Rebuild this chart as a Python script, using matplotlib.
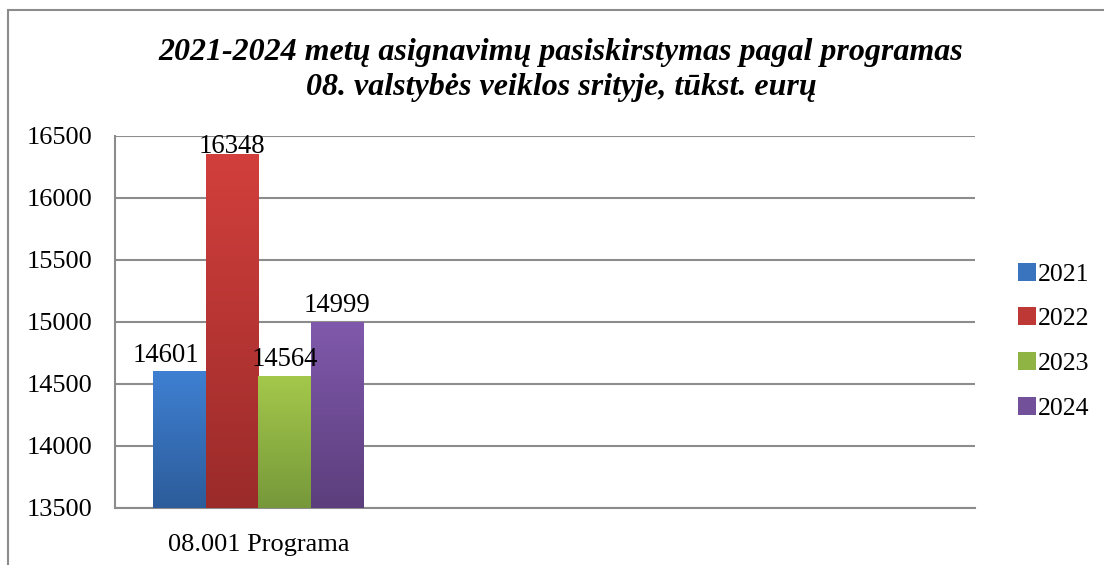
import numpy as np
import matplotlib
matplotlib.use('Agg')
import matplotlib.pyplot as plt
from matplotlib.colors import LinearSegmentedColormap
from matplotlib.patches import Rectangle, Patch

# duomenys
categories = ['08.001 Programa', '', '']
years = ['2021', '2022', '2023', '2024']
values = [14601, 16348, 14564, 14999]
colors_top = ['#3F80D2', '#D23F3C', '#A4C84B', '#8059AC']
colors_bottom = ['#2C5C9A', '#9A2B2A', '#76983A', '#5C3E7C']
colors_mid = ['#3A73BE', '#BE3835', '#90B444', '#72509A']
y_ticks = [13500, 14000, 14500, 15000, 15500, 16000, 16500]

plt.rcParams['font.family'] = ['Liberation Serif', 'DejaVu Serif']

fig = plt.figure(figsize=(11.04, 5.65), dpi=100)
ax = fig.add_axes([115/1104, 57/565, 860/1104, 372/565])

# rėmelis (dešinė ir apačia už paveikslo ribų)
fig.patches.append(Rectangle((8/1104, -0.05), 1.05, 1.05 - 10/565, transform=fig.transFigure,
                             fill=False, edgecolor='#8C8C8C', linewidth=1.5))

bar_w = 0.183
ymin, ymax = y_ticks[0], y_ticks[-1]
for i, (v, ct, cb) in enumerate(zip(values, colors_top, colors_bottom)):
    x = (i - 1.5) * bar_w
    b = ax.bar(x, v, width=bar_w, color=colors_mid[i], zorder=3)[0]
    cmap = LinearSegmentedColormap.from_list('g%d' % i, [cb, ct])
    grad = np.linspace(1, 0, 256).reshape(-1, 1)
    ax.imshow(grad, cmap=cmap, aspect='auto', zorder=4,
              extent=(b.get_x(), b.get_x() + b.get_width(), ymin, v))
    # etiketė virš stulpelio, bet ne aukščiau diagramos ribos
    y_lab = min(v + 80, ymax - 137)
    dx = -14 if i == 0 else 0
    ax.annotate(str(v), (x, y_lab), xytext=(dx * 0.72, 0), textcoords='offset points',
                ha='center', va='baseline', fontsize=19.3, zorder=5)

ax.set_xlim(-0.5, 2.5)
ax.set_ylim(ymin, ymax)
ax.set_yticks(y_ticks)
ax.set_yticklabels([str(t) for t in y_ticks], fontsize=19)
ax.set_xticks([0, 1, 2])
ax.set_xticklabels(categories, fontsize=19)
ax.tick_params(length=0)
ax.tick_params(axis='y', pad=16)
ax.tick_params(axis='x', pad=19)
ax.grid(axis='y', color='#8C8C8C', linewidth=1.5, zorder=0)
ax.set_axisbelow(True)
for s in ['top', 'right']:
    ax.spines[s].set_visible(False)
for s in ['left', 'bottom']:
    ax.spines[s].set_color('#8C8C8C')
    ax.spines[s].set_linewidth(1.5)

fig.text(0.508, 0.876, '2021-2024 metų asignavimų pasiskirstymas pagal programas\n08. valstybės veiklos srityje, tūkst. eurų',
         ha='center', va='center', fontsize=23, fontweight='bold', fontstyle='italic', linespacing=1.3)

handles = [Patch(facecolor=c) for c in colors_mid]
fig.legend(handles, years, loc='center left', bbox_to_anchor=(995/1104, 0.396), frameon=False,
           fontsize=18.5, handlelength=0.7, handleheight=0.7, handletextpad=0.05, labelspacing=0.85)

fig.savefig('out.png', dpi=100)
